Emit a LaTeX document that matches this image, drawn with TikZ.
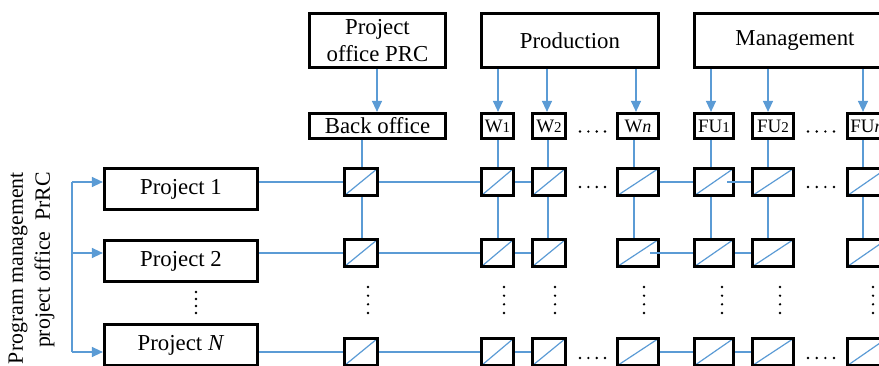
\documentclass[tikz,border=0pt]{standalone}
\usepackage{fontspec}
\setmainfont{Liberation Serif}
\usetikzlibrary{arrows.meta}
\definecolor{lblue}{HTML}{5B9BD5}
\newcommand\lsub[1]{{\fontsize{15}{15}\selectfont #1}}
\newcommand\lita[1]{{\fontsize{18}{18}\selectfont\itshape #1}}
\begin{document}
\begin{tikzpicture}[x=1pt,y=-1pt,
  box/.style={draw=black, line width=3.2pt, inner sep=0pt, font=\fontsize{22.8}{27.5}\selectfont, align=center},
  lbl/.style={draw=black, line width=3.2pt, inner sep=0pt, font=\fontsize{19}{22}\selectfont, minimum height=25pt},
  cell/.style={draw=black, line width=3.2pt, inner sep=0pt, minimum height=27pt,
    path picture={\draw[lblue, line width=1.2pt] (path picture bounding box.south west) -- (path picture bounding box.north east);}},
  conn/.style={draw=lblue, line width=1.3pt},
  arr/.style={conn, -{Triangle[length=11pt,width=10pt]}},
  dotc/.style={fill=black}
]
\useasboundingbox (0,0) rectangle (879,366);

% top boxes
\node[box, minimum width=136pt, minimum height=54pt] (PO) at (377.5,40.5) {Project\\office PRC};
\node[box, minimum width=177pt, minimum height=54pt] (PR) at (570,40.5) {Production};
\node[box, minimum width=201pt, minimum height=54pt] (MG) at (795,40.5) {Management};

% label row
\node[box, minimum width=136pt, minimum height=25pt] (BO) at (377.5,126) {Back office};
\node[lbl, minimum width=32pt] (LW1) at (497.5,126) {W\lsub{1}};
\node[lbl, minimum width=33pt] (LW2) at (549,126) {W\lsub{2}};
\node[lbl, minimum width=41pt] (LWn) at (638,126) {W\lita{n}};
\node[lbl, minimum width=39pt] (LF1) at (714,126) {FU\lsub{1}};
\node[lbl, minimum width=41pt] (LF2) at (773,126) {FU\lsub{2}};
\node[lbl, minimum width=39pt] (LFn) at (867,126) {FU\lita{n}};

% project boxes
\node[box, minimum width=153pt, minimum height=41pt] (P1) at (181,189) {Project 1};
\node[box, minimum width=153pt, minimum height=41pt] (P2) at (181,261) {Project 2};
\node[box, minimum width=153pt, minimum height=41pt] (PN) at (181,345) {Project \textit{N}};

% cells
\foreach \rr/\yy in {a/182,b/253,c/352}{
  \node[cell, minimum width=33pt] (CB\rr) at (361,\yy) {};
  \node[cell, minimum width=32pt] (CW1\rr) at (497.5,\yy) {};
  \node[cell, minimum width=33pt] (CW2\rr) at (549,\yy) {};
  \node[cell, minimum width=41pt] (CWn\rr) at (638,\yy) {};
  \node[cell, minimum width=39pt] (CF1\rr) at (714,\yy) {};
  \node[cell, minimum width=41pt] (CF2\rr) at (773,\yy) {};
  \node[cell, minimum width=39pt] (CFn\rr) at (867,\yy) {};
}

% vertical text
\node[rotate=90, anchor=east, align=right, inner sep=0pt, font=\fontsize{21.8}{27}\selectfont] (PM) at (31.5,172) {Program management\\project office\ \ PrRC};

% column line coordinates
\coordinate (xB) at (362,0);
\coordinate (xW1) at (498,0);
\coordinate (xW2) at (548,0);
\coordinate (xWn) at (634,0);
\coordinate (xF1) at (711,0);
\coordinate (xF2) at (768,0);
\coordinate (xFn) at (863,0);
\coordinate (aPO) at (377,0);
\coordinate (aW1) at (498,0);
\coordinate (aW2) at (547,0);
\coordinate (aWn) at (636,0);
\coordinate (aF1) at (711,0);
\coordinate (aF2) at (768,0);
\coordinate (aFn) at (863,0);

% arrows from top boxes
\draw[arr] (PO.south -| aPO) -- (BO.north -| aPO);
\draw[arr] (PR.south -| aW1) -- (LW1.north -| aW1);
\draw[arr] (PR.south -| aW2) -- (LW2.north -| aW2);
\draw[arr] (PR.south -| aWn) -- (LWn.north -| aWn);
\draw[arr] (MG.south -| aF1) -- (LF1.north -| aF1);
\draw[arr] (MG.south -| aF2) -- (LF2.north -| aF2);
\draw[arr] (MG.south -| aFn) -- (LFn.north -| aFn);

% vertical connectors
\foreach \cc/\ll in {B/BO,W1/LW1,W2/LW2,Wn/LWn,F1/LF1,F2/LF2,Fn/LFn}{
  \draw[conn] (\ll.south -| x\cc) -- (C\cc a.north -| x\cc);
  \draw[conn] (C\cc a.south -| x\cc) -- (C\cc b.north -| x\cc);
}

% horizontal connectors
\draw[conn] (P1.east |- CBa.west) -- (CBa.west);
\draw[conn] (CBa.east) -- (CW1a.west);
\draw[conn] (CW1a.east) -- (CW2a.west);
\draw[conn] (CWna.east) -- (CF1a.west);
\draw[conn] ([xshift=-8pt]CF1a.east) -- (CF2a.west);

\draw[conn] (P2.east |- CBb.west) -- (CBb.west);
\draw[conn] (CBb.east) -- (CW1b.west);
\draw[conn] (CW1b.east) -- (CW2b.west);
\draw[conn] ([xshift=-10pt]CWnb.east) -- (CF1b.west);
\draw[conn] (CF1b.east) -- (CF2b.west);

\draw[conn] (PN.east |- CBc.west) -- (CBc.west);
\draw[conn] (CBc.east) -- (CW1c.west);
\draw[conn] (CW1c.east) -- (CW2c.west);
\draw[conn] (CWnc.east) -- (CF1c.west);
\draw[conn] (CF1c.east) -- (CF2c.west);

% left bracket
\coordinate (brA) at (72,182);
\coordinate (brB) at (72,253);
\coordinate (brC) at (72,352);
\draw[conn] (brA) -- (brC);
\draw[arr] (brA) -- (P1.west |- brA);
\draw[arr] (brB) -- (P2.west |- brB);
\draw[arr] (brC) -- (PN.west |- brC);

% horizontal dots
\foreach \yy in {131.5,187,358}{
  \foreach \xx in {580,588.3,596.7,605}{\fill[dotc] (\xx,\yy) circle (1.3pt);}
  \foreach \xx in {808,816.7,825.3,834}{\fill[dotc] (\xx,\yy) circle (1.3pt);}
}
% vertical dots
\foreach \xx in {368,504,555,644,722,780,873}{
  \foreach \yy in {287,295.7,304.3,313}{\fill[dotc] (\xx,\yy) circle (1.3pt);}
}
\foreach \yy in {292,299,306,313}{\fill[dotc] (196,\yy) circle (1.3pt);}
\end{tikzpicture}
\end{document}
